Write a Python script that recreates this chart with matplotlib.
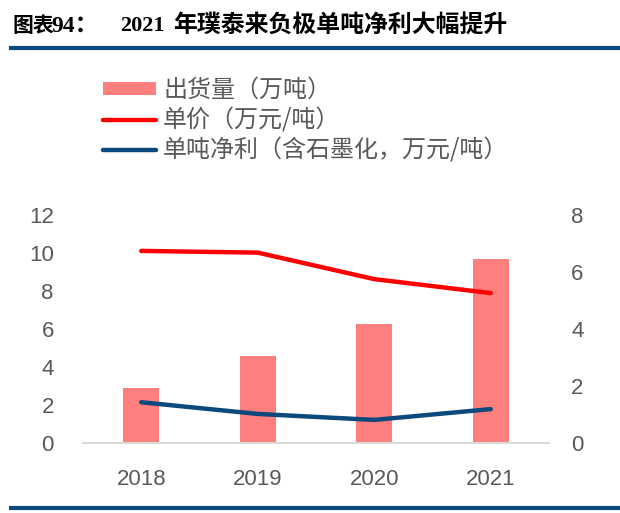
import matplotlib.pyplot as plt
from matplotlib.patches import Patch
from matplotlib.lines import Line2D

# data
years = ['2018', '2019', '2020', '2021']
shipments = [2.91, 4.56, 6.26, 9.68]        # 出货量（万吨）, left axis
price = [6.74, 6.68, 5.75, 5.26]            # 单价（万元/吨）, right axis
net_profit = [1.43, 1.02, 0.81, 1.19]       # 单吨净利, right axis

left_ticks = [0, 2, 4, 6, 8, 10, 12]
right_ticks = [0, 2, 4, 6, 8]

plt.rcParams['font.family'] = ['Liberation Sans', 'Noto Sans CJK SC', 'DejaVu Sans']

W, H = 620, 513
fig = plt.figure(figsize=(W / 100, H / 100), dpi=100)

bar_c = '#FF7F7F'
red_c = '#FF0000'
blue_c = '#0B4A7C'
dark_c = '#0B4A7C'
txt_c = '#595959'
cjk = ['Noto Sans CJK SC', 'DejaVu Sans']
serif = ['Liberation Serif', 'Noto Sans CJK SC', 'DejaVu Sans']

ax = fig.add_axes([83 / W, 1 - 443 / H, (549 - 83) / W, (443 - 215) / H])
x = list(range(len(years)))
ax.bar(x, shipments, width=0.31, color=bar_c, zorder=1)
ax.set_xlim(-0.5, 3.5)
ax.set_ylim(0, 12)
ax.set_yticks(left_ticks)
ax.set_xticks(x)
ax.set_xticklabels(years)

ax2 = ax.twinx()
ax2.plot(x, price, color=red_c, lw=3.2, solid_capstyle='round', solid_joinstyle='round')
ax2.plot(x, net_profit, color=blue_c, lw=3.2, solid_capstyle='round', solid_joinstyle='round')
ax2.set_ylim(0, 8)
ax2.set_yticks(right_ticks)

for a in (ax, ax2):
    for s in a.spines.values():
        s.set_visible(False)
    a.tick_params(length=0, labelsize=16, labelcolor=txt_c)
ax.spines['bottom'].set_visible(True)
ax.spines['bottom'].set_color('#D9D9D9')
ax.spines['bottom'].set_linewidth(1.5)
ax.tick_params(axis='y', pad=21)
ax.tick_params(axis='x', pad=19)
ax2.tick_params(axis='y', pad=16)

# legend
handles = [
    Patch(facecolor=bar_c, edgecolor='none'),
    Line2D([], [], color=red_c, lw=3.2, solid_capstyle='round'),
    Line2D([], [], color=blue_c, lw=3.2, solid_capstyle='round'),
]
labels = ['出货量（万吨）', '单价（万元/吨）', '单吨净利（含石墨化，万元/吨）']
leg = fig.legend(handles, labels, loc='upper left', bbox_to_anchor=(103 / W, 1 - 77 / H),
                 frameon=False, borderpad=0, borderaxespad=0, handlelength=2.2,
                 handleheight=0.5, handletextpad=0.3, labelspacing=0.18,
                 prop={'family': cjk, 'size': 17.3})
for t in leg.get_texts():
    t.set_color(txt_c)

# header, drawn in pieces to follow the mixed fonts of the original
ty = 1 - 26 / H
fig.text(12 / W, ty, '图表', ha='left', va='center', fontsize=15, fontweight='bold',
         color='black', family=cjk)
fig.text(51 / W, ty, '94：', ha='left', va='center', fontsize=17, fontweight='bold',
         color='black', family=serif)
fig.text(120 / W, ty, '2021', ha='left', va='center', fontsize=16, fontweight='bold',
         color='black', family=serif)
fig.text(173 / W, ty, '年璞泰来负极单吨净利大幅提升', ha='left', va='center', fontsize=17.2,
         fontweight='bold', color='black', family=cjk)
fig.add_artist(Line2D([11 / W, 1], [1 - 48 / H] * 2, color=dark_c, lw=3))
fig.add_artist(Line2D([11 / W, 1], [1 - 507.5 / H] * 2, color=dark_c, lw=3))

plt.savefig('out.png', dpi=100)
